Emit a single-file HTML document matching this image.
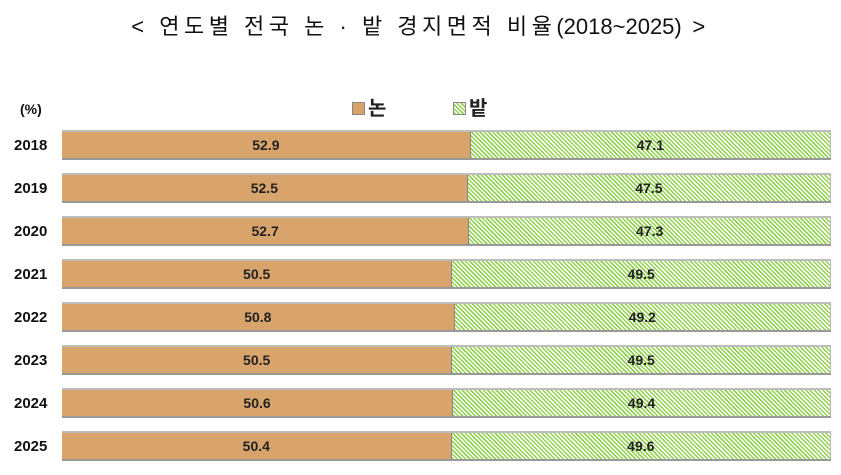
<!DOCTYPE html>
<html><head><meta charset="utf-8"><style>
body{margin:0;width:841px;height:475px;background:#fff;position:relative;font-family:"Liberation Sans","Noto Sans CJK KR",sans-serif;overflow:hidden}
.t{position:absolute;top:9px;left:0;width:841px;text-align:center;font-size:22px;letter-spacing:4.5px;color:#111}
.t span{letter-spacing:0}
.yl{position:absolute;left:14px;width:44px;font-size:15px;font-weight:bold;color:#111}
.row{position:absolute;left:62px;width:769px;height:30px;display:flex;border-top:2px solid #bdbdbd;border-bottom:2px solid #999;box-sizing:border-box}
.a{background:#d8a46c;height:100%;display:flex;align-items:center;justify-content:center;font-weight:bold;font-size:14px;color:#222;border-right:1px solid #888;box-sizing:border-box}
.b{flex:1;height:100%;display:flex;align-items:center;justify-content:center;font-weight:bold;font-size:14px;color:#222;background:repeating-linear-gradient(45deg,#92d050 0 1.5px,#fff 1.5px 3px);border-right:1px solid #bbb}
</style></head><body>
<div class="t">&lt; 연도별 전국 논 · 밭 경지면적 비율<span>(2018~2025)</span> &gt;</div>
<div class="yl" style="top:101px;font-size:14px;left:20px">(%)</div>
<div style="position:absolute;left:352px;top:92px;font-size:20px;font-weight:bold;color:#222"><span style="display:inline-block;width:11px;height:11px;background:#d8a46c;border:1px solid #888;margin-right:3px"></span>논</div>
<div style="position:absolute;left:453px;top:92px;font-size:20px;font-weight:bold;color:#222"><span style="display:inline-block;width:11px;height:11px;background:repeating-linear-gradient(45deg,#92d050 0 1.5px,#fff 1.5px 3px);border:1px solid #888;margin-right:3px"></span>밭</div>
<div id="c"></div>
<script>
var d=[[2018,52.9,47.1],[2019,52.5,47.5],[2020,52.7,47.3],[2021,50.5,49.5],[2022,50.8,49.2],[2023,50.5,49.5],[2024,50.6,49.4],[2025,50.4,49.6]];
var h='';d.forEach(function(r,i){var y=130+i*43;
h+='<div class="yl" style="top:'+(y+7)+'px">'+r[0]+'</div><div class="row" style="top:'+y+'px"><div class="a" style="width:'+(r[1]*7.69+2)+'px">'+r[1].toFixed(1)+'</div><div class="b"><span>'+r[2].toFixed(1)+'</span></div></div>';});
document.getElementById('c').innerHTML=h;
</script>
</body></html>
